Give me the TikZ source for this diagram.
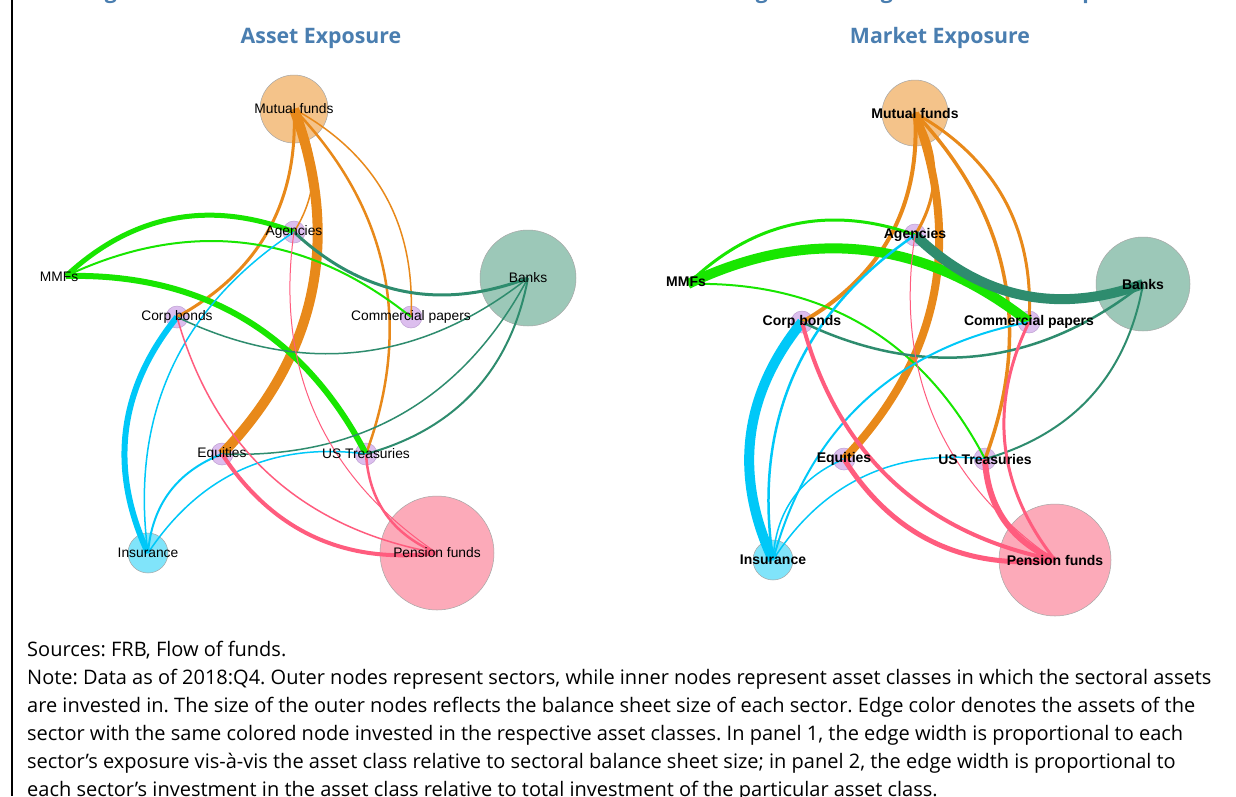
\documentclass[tikz,border=0pt]{standalone}
\usepackage{fontspec}
\setmainfont{Liberation Sans}
\newfontfamily\notefont{Open Sans}
\newfontfamily\titlefont{Open Sans}
\frenchspacing
\definecolor{orng}{RGB}{232,137,26}
\definecolor{mffill}{RGB}{244,195,138}
\definecolor{grn}{RGB}{24,230,0}
\definecolor{tealc}{RGB}{46,140,110}
\definecolor{bkfill}{RGB}{156,200,184}
\definecolor{cyn}{RGB}{0,200,248}
\definecolor{infill}{RGB}{128,228,250}
\definecolor{pnk}{RGB}{255,92,126}
\definecolor{pffill}{RGB}{252,170,185}
\definecolor{lilac}{RGB}{220,190,238}
\definecolor{lilacdk}{RGB}{190,160,210}
\definecolor{titleblue}{RGB}{74,126,176}
\newcommand\myedge[4]{\draw[#1, line width=#2pt] (#3.center) to[cv] (#4.center);}
\begin{document}
\begin{tikzpicture}[x=1pt,y=-1pt,
  sec/.style={circle, draw=black!35, line width=0.5pt, inner sep=0pt, minimum size=#1},
  ast/.style={circle, fill=lilac, draw=lilacdk, line width=0.5pt, inner sep=0pt, minimum size=22pt},
  lab/.style={inner sep=0pt, font=\fontsize{13.8}{15}\selectfont},
  labb/.style={inner sep=0pt, font=\fontsize{14}{15}\selectfont\bfseries},
  cv/.style={bend left=32},
  ttl/.style={inner sep=0pt, font=\titlefont\bfseries\fontsize{21.3}{25}\selectfont, text=titleblue},
  note/.style={anchor=base west, inner sep=0pt, font=\notefont\fontsize{20}{22}\selectfont},
]
\useasboundingbox (0,0) rectangle (1236,796);
\clip (0,0) rectangle (1236,796);
\fill[white] (0,0) rectangle (1236,796);
\draw[line width=2pt] (12,0) -- (12,796);

% cut-off heading descenders
\node[ttl, anchor=base] (f1) at (111,-2) {g};
\node[ttl, anchor=base] (f2) at (762,-2) {g};
\node[ttl, anchor=base] (f3) at (887,-2) {g};
\node[ttl, anchor=base] (f4) at (1089,-2) {p};

% titles
\node[ttl] (t1) at (321,38) {Asset Exposure};
\node[ttl] (t2) at (940,38) {Market Exposure};

% ---------------- left panel nodes
\node[sec=68pt, fill=mffill] (mfA) at (294,109) {};
\node[sec=96pt, fill=bkfill] (bkA) at (528,278) {};
\node[sec=40pt, fill=infill] (inA) at (148,553) {};
\node[sec=114pt, fill=pffill] (pfA) at (437,553) {};
\coordinate (mmA) at (66,276);
\node[ast] (agA) at (294,232) {};
\node[ast] (cbA) at (177,317) {};
\node[ast] (cpA) at (411,317) {};
\node[ast] (eqA) at (222,454) {};
\node[ast] (utA) at (366,454) {};

% left edges
\myedge{orng}{10}{mfA}{eqA}
\myedge{orng}{3}{mfA}{cbA}
\myedge{orng}{1.5}{mfA}{agA}
\myedge{orng}{2.5}{mfA}{utA}
\myedge{orng}{1.5}{mfA}{cpA}
\myedge{grn}{5}{mmA}{agA}
\myedge{grn}{2}{mmA}{cpA}
\myedge{grn}{6}{mmA}{utA}
\myedge{tealc}{3}{bkA}{agA}
\myedge{tealc}{1.5}{bkA}{cbA}
\myedge{tealc}{1.5}{bkA}{eqA}
\myedge{tealc}{2}{bkA}{utA}
\myedge{cyn}{6}{inA}{cbA}
\myedge{cyn}{1.5}{inA}{agA}
\myedge{cyn}{2}{inA}{eqA}
\myedge{cyn}{1.5}{inA}{utA}
\myedge{pnk}{4}{pfA}{eqA}
\myedge{pnk}{1.5}{pfA}{cbA}
\myedge{pnk}{1}{pfA}{agA}
\myedge{pnk}{2.5}{pfA}{utA}

% left labels
\node[lab] (lmfA) at (mfA) {Mutual funds};
\node[lab] (lagA) at (agA) {Agencies};
\node[lab] (lmmA) at (59,277) {MMFs};
\node[lab] (lbkA) at (bkA) {Banks};
\node[lab] (lcbA) at (cbA) {Corp bonds};
\node[lab] (lcpA) at (cpA) {Commercial papers};
\node[lab] (leqA) at (eqA) {Equities};
\node[lab] (lutA) at (utA) {US Treasuries};
\node[lab] (linA) at (inA) {Insurance};
\node[lab] (lpfA) at (pfA) {Pension funds};

% ---------------- right panel nodes
\node[sec=66pt, fill=mffill] (mfB) at (915,113) {};
\node[sec=94pt, fill=bkfill] (bkB) at (1143,284) {};
\node[sec=40pt, fill=infill] (inB) at (773,560) {};
\node[sec=112pt, fill=pffill] (pfB) at (1055,560) {};
\coordinate (mmB) at (688,284);
\node[ast] (agB) at (915,235) {};
\node[ast] (cbB) at (802,322) {};
\node[ast] (cpB) at (1029,322) {};
\node[ast] (eqB) at (844,459) {};
\node[ast] (utB) at (985,459) {};

% right edges
\myedge{orng}{8}{mfB}{eqB}
\myedge{orng}{4}{mfB}{cbB}
\myedge{orng}{3}{mfB}{agB}
\myedge{orng}{3.5}{mfB}{utB}
\myedge{orng}{3}{mfB}{cpB}
\myedge{grn}{3}{mmB}{agB}
\myedge{grn}{10}{mmB}{cpB}
\myedge{grn}{2}{mmB}{utB}
\myedge{tealc}{10}{bkB}{agB}
\myedge{tealc}{2.5}{bkB}{cbB}
\myedge{tealc}{2}{bkB}{utB}
\myedge{cyn}{10}{inB}{cbB}
\myedge{cyn}{2.5}{inB}{agB}
\myedge{cyn}{2}{inB}{cpB}
\myedge{cyn}{1.5}{inB}{eqB}
\myedge{cyn}{1.5}{inB}{utB}
\myedge{pnk}{5}{pfB}{eqB}
\myedge{pnk}{4}{pfB}{cbB}
\myedge{pnk}{1}{pfB}{agB}
\myedge{pnk}{6}{pfB}{utB}
\myedge{pnk}{3}{pfB}{cpB}

% right labels
\node[labb] (lmfB) at (mfB) {Mutual funds};
\node[labb] (lagB) at (agB) {Agencies};
\node[labb] (lmmB) at (686,282) {MMFs};
\node[labb] (lbkB) at (bkB) {Banks};
\node[labb] (lcbB) at (cbB) {Corp bonds};
\node[labb] (lcpB) at (cpB) {Commercial papers};
\node[labb] (leqB) at (eqB) {Equities};
\node[labb] (lutB) at (utB) {US Treasuries};
\node[labb] (linB) at (inB) {Insurance};
\node[labb] (lpfB) at (pfB) {Pension funds};

% ---------------- notes
\node[note] (n0) at (27,656) {Sources: FRB, Flow of funds.};
\node[note] (n1) at (27,684) {Note: Data as of 2018:Q4. Outer nodes represent sectors, while inner nodes represent asset classes in which the sectoral assets};
\node[note] (n2) at (27,712) {are invested in. The size of the outer nodes reflects the balance sheet size of each sector. Edge color denotes the assets of the};
\node[note] (n3) at (27,740) {sector with the same colored node invested in the respective asset classes. In panel 1, the edge width is proportional to each};
\node[note] (n4) at (27,768) {sector’s exposure vis-à-vis the asset class relative to sectoral balance sheet size; in panel 2, the edge width is proportional to};
\node[note] (n5) at (27,796) {each sector’s investment in the asset class relative to total investment of the particular asset class.};
\end{tikzpicture}
\end{document}
